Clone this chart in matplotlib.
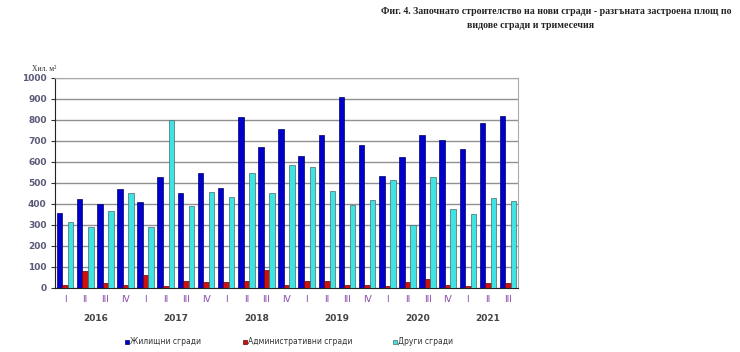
import matplotlib
matplotlib.use("Agg")
import matplotlib.pyplot as plt
import numpy as np

years = ["2016", "2017", "2018", "2019", "2020", "2021"]
quarters = ["I", "II", "III", "IV"] * 5 + ["I", "II", "III"]
residential = [358, 423, 400, 471, 408, 525, 452, 545,
               475, 811, 668, 757, 627, 725, 906, 681,
               530, 624, 725, 702, 662, 784, 817]
administrative = [11, 80, 20, 14, 62, 10, 33, 28,
                  26, 30, 82, 12, 32, 32, 15, 15,
                  7, 29, 42, 15, 8, 21, 21]
other = [312, 289, 364, 451, 291, 798, 389, 456,
         430, 547, 449, 586, 575, 459, 394, 417,
         511, 298, 525, 373, 352, 425, 411]
series_names = ["Жилищни сгради", "Административни сгради", "Други сгради"]
colors = ["#0000cc", "#cc1111", "#3fe3e3"]
edges = ["#000066", "#660000", "#4a6a6a"]

fig = plt.figure(figsize=(7.4, 3.52), dpi=100)
ax = fig.add_axes([0.0743, 0.1827, 0.626, 0.5966])

n = len(residential)
x = np.arange(n)
w = 0.275
for i, (vals, c, ec) in enumerate(zip([residential, administrative, other], colors, edges)):
    ax.bar(x + (i - 1) * w, vals, width=w, color=c, edgecolor=ec, linewidth=0.5, zorder=3)

ax.set_xlim(-0.5, n - 0.5)
ax.set_ylim(0, 1000)
ax.set_yticks(np.arange(0, 1001, 100))
ax.yaxis.grid(True, color="#909090", linewidth=1.0, zorder=0)
ax.set_axisbelow(True)
for lab in ax.get_yticklabels():
    lab.set_fontweight("bold")
ax.tick_params(axis="y", labelsize=6.5, labelcolor="#5a5a78", length=3, color="#333333", pad=3)
ax.set_xticks(x)
ax.set_xticklabels(quarters)
ax.tick_params(axis="x", length=0, labelsize=6.5, labelcolor="#8844aa", pad=5)
ax.spines["left"].set_color("#222222")
ax.spines["bottom"].set_color("#222222")
ax.spines["top"].set_color("#aaaaaa")
ax.spines["right"].set_color("#aaaaaa")

# year labels
starts = [0, 4, 8, 12, 16, 20]
sizes = [4, 4, 4, 4, 4, 3]
for yr, s, k in zip(years, starts, sizes):
    ax.text(s + (k - 1) / 2, -0.145, yr, transform=ax.get_xaxis_transform(),
            ha="center", va="center", fontsize=6.5, color="#444444", fontweight="bold")

fig.text(32 / 740, 1 - 69 / 352, "Хил. м²", fontsize=5.5, family="Liberation Serif",
         color="#333333", ha="left", va="center")

# title
fig.text(556 / 740, 1 - 12 / 352,
         "Фиг. 4. Започнато строителство на нови сгради - разгъната застроена площ по",
         ha="center", va="center", fontsize=7.1, fontweight="bold", family="Liberation Serif",
         color="#222222")
fig.text(531 / 740, 1 - 25 / 352, "видове сгради и тримесечия",
         ha="center", va="center", fontsize=7.1, fontweight="bold", family="Liberation Serif",
         color="#222222")

# legend
leg_x = [125, 243, 393]
for lx, name, c, ec in zip(leg_x, series_names, colors, edges):
    fig.patches.append(plt.Rectangle((lx / 740, 1 - 344 / 352), 4 / 740, 4 / 352,
                                     transform=fig.transFigure, facecolor=c, edgecolor=ec,
                                     linewidth=0.5))
    fig.text((lx + 5) / 740, 1 - 342 / 352, name, fontsize=5.5, color="#333333",
             ha="left", va="center")

fig.savefig("out.png", dpi=100)
